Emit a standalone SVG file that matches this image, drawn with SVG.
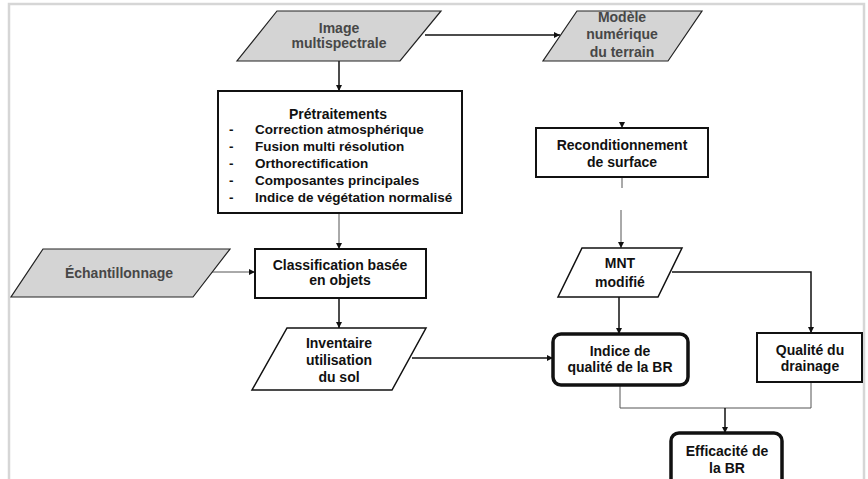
<svg xmlns="http://www.w3.org/2000/svg" width="868" height="479" viewBox="0 0 868 479">
<defs>
<marker id="ah" viewBox="0 0 10 10" refX="10" refY="5" markerWidth="6" markerHeight="6" markerUnits="userSpaceOnUse" orient="auto">
<path d="M0,0 L10,5 L0,10 Z" fill="#111"/>
</marker>
</defs>
<style>
.frame{fill:none;stroke:#d6d6d6;stroke-width:2.5}
.io{fill:#d4d4d4;stroke:#222;stroke-width:1.2}
.iow{fill:#fff;stroke:#111;stroke-width:1.5}
.box{fill:#fff;stroke:#111;stroke-width:2}
.rbox{fill:#fff;stroke:#111;stroke-width:3.5}
.c{fill:none;stroke:#111;stroke-width:1.5}
.ct{fill:none;stroke:#555;stroke-width:1}
.tb{font-family:"Liberation Sans",Arial,sans-serif;font-weight:bold;font-size:14px;fill:#111;text-anchor:middle}
.tg{font-family:"Liberation Sans",Arial,sans-serif;font-weight:bold;font-size:14px;fill:#474747;text-anchor:middle}
.tl{font-family:"Liberation Sans",Arial,sans-serif;font-weight:bold;font-size:13.5px;fill:#111}
</style>
<rect width="868" height="479" fill="#fff"/>
<path class="frame" d="M9,485 L9,4 L864,4 L864,485"/>

<g id="connectors">
<line class="c" x1="339" y1="61" x2="339" y2="91" marker-end="url(#ah)"/>
<line class="c" x1="425" y1="35" x2="560" y2="35" marker-end="url(#ah)"/>
<line class="ct" x1="339" y1="213" x2="339" y2="249" marker-end="url(#ah)"/>
<line class="ct" x1="210" y1="272" x2="255" y2="272" marker-end="url(#ah)"/>
<line class="c" x1="339" y1="298" x2="339" y2="328" marker-end="url(#ah)"/>
<line class="c" x1="412" y1="358" x2="553" y2="358" marker-end="url(#ah)"/>
<line class="ct" x1="622" y1="122" x2="622" y2="128" marker-end="url(#ah)"/>
<line class="ct" x1="622" y1="177" x2="622" y2="188"/>
<line class="ct" x1="621" y1="210" x2="621" y2="248" marker-end="url(#ah)"/>
<line class="c" x1="619" y1="297" x2="619" y2="334" marker-end="url(#ah)"/>
<polyline class="c" points="672,272 811,272 811,333" marker-end="url(#ah)"/>
<polyline class="ct" points="620,385 620,408 811,408 811,382"/>
<line class="c" x1="725" y1="408" x2="725" y2="433" marker-end="url(#ah)"/>
</g>

<g id="image-multispectrale">
<polygon class="io" points="277,11 441,11 400,61 237,61"/>
<text class="tg" x="339" y="33">Image</text>
<text class="tg" x="339" y="48">multispectrale</text>
</g>

<g id="modele-numerique">
<polygon class="io" points="577,11 702,11 668,61 543,61"/>
<text class="tg" x="622" y="22">Modèle</text>
<text class="tg" x="622" y="39">numérique</text>
<text class="tg" x="622" y="57">du terrain</text>
</g>

<g id="pretraitements">
<rect class="box" x="218" y="91" width="244" height="122" stroke-width="1.5"/>
<text class="tb" x="338" y="119">Prétraitements</text>
<text class="tl" x="229" y="134">-</text><text class="tl" x="255" y="134">Correction atmosphérique</text>
<text class="tl" x="229" y="151">-</text><text class="tl" x="255" y="151">Fusion multi résolution</text>
<text class="tl" x="229" y="168">-</text><text class="tl" x="255" y="168">Orthorectification</text>
<text class="tl" x="229" y="185">-</text><text class="tl" x="255" y="185">Composantes principales</text>
<text class="tl" x="229" y="202">-</text><text class="tl" x="255" y="202">Indice de végétation normalisé</text>
</g>

<g id="echantillonnage">
<polygon class="io" points="43,249 230,249 193,297 11,297"/>
<text class="tg" x="119" y="278">Échantillonnage</text>
</g>

<g id="classification">
<rect class="box" x="255" y="249" width="171" height="49"/>
<text class="tb" x="340" y="270">Classification basée</text>
<text class="tb" x="340" y="285">en objets</text>
</g>

<g id="inventaire">
<polygon class="iow" points="287,328 426,328 392,390 252,390"/>
<text class="tb" x="339" y="348">Inventaire</text>
<text class="tb" x="339" y="365">utilisation</text>
<text class="tb" x="339" y="382">du sol</text>
</g>

<g id="reconditionnement">
<rect class="box" x="536" y="128" width="172" height="49"/>
<text class="tb" x="622" y="150">Reconditionnement</text>
<text class="tb" x="622" y="167">de surface</text>
</g>

<g id="mnt-modifie">
<polygon class="iow" points="582,248 682,248 658,297 558,297"/>
<text class="tb" x="620" y="268">MNT</text>
<text class="tb" x="620" y="287">modifié</text>
</g>

<g id="indice-qualite">
<rect class="rbox" x="553" y="334" width="135" height="51" rx="8"/>
<text class="tb" x="620" y="356">Indice de</text>
<text class="tb" x="620" y="372">qualité de la BR</text>
</g>

<g id="qualite-drainage">
<rect class="box" x="757" y="333" width="105" height="49"/>
<text class="tb" x="810" y="355">Qualité du</text>
<text class="tb" x="810" y="371">drainage</text>
</g>

<g id="efficacite">
<rect class="rbox" x="671" y="433" width="111" height="60" rx="8"/>
<text class="tb" x="727" y="456">Efficacité de</text>
<text class="tb" x="727" y="473">la BR</text>
</g>
</svg>
